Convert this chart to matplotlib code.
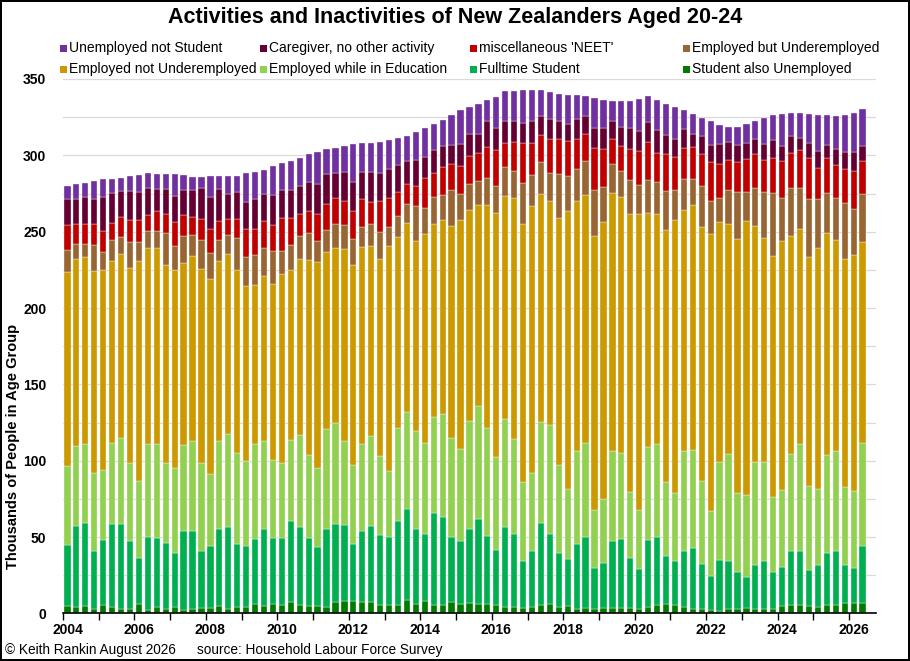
"""
Activities and Inactivities of New Zealanders Aged 20-24 (stacked quarterly bars).
Values (thousands) read from the HLFS chart, 2004 Q1 to 2026 Q2.
"""

import numpy as np
import matplotlib.pyplot as plt
from matplotlib.patches import Rectangle

plt.rcParams['font.family'] = ['Liberation Sans', 'DejaVu Sans']

# ============================================================================
# DATA (thousands of people, one value per quarter from 2004 Q1)
# ============================================================================
years = list(range(2004, 2027, 2))

student_unemployed = [
    5.0, 4.5, 5.0, 3.2, 5.7, 4.5, 2.9, 3.2, 6.1, 2.0, 4.5, 3.2, 4.5, 2.3, 3.2, 3.6,
    3.6, 5.0, 3.2, 4.3, 4.5, 6.1, 5.0, 6.1, 5.7, 7.7, 5.7, 5.2, 5.2, 4.5, 7.2, 7.9,
    7.9, 7.5, 7.5, 5.7, 5.4, 5.4, 8.8, 6.3, 8.4, 5.7, 5.7, 7.2, 6.1, 6.8, 6.1, 6.1,
    5.7, 4.5, 4.1, 3.9, 4.1, 5.7, 6.1, 4.3, 4.8, 2.7, 3.4, 2.7, 3.4, 3.4, 3.4, 3.4,
    3.2, 4.5, 5.7, 6.1, 5.7, 4.1, 2.7, 2.7, 2.3, 1.8, 3.2, 2.7, 3.6, 3.2, 3.2, 3.2,
    5.0, 5.7, 5.4, 4.8, 4.3, 5.4, 5.4, 6.6, 7.0, 7.0]

fulltime_student = [
    40.1, 52.6, 54.4, 37.4, 42.3, 54.4, 56.0, 44.4, 30.1, 47.8, 45.1, 43.0, 34.9, 51.4, 50.9, 37.6,
    40.4, 50.3, 53.2, 41.5, 39.7, 42.6, 50.3, 43.1, 43.9, 52.8, 50.7, 44.0, 38.3, 50.8, 51.7, 50.1,
    37.4, 46.6, 50.0, 45.7, 44.4, 55.1, 59.6, 49.2, 43.7, 59.8, 57.7, 43.1, 41.5, 48.7, 56.0, 44.6,
    36.0, 52.4, 47.8, 30.5, 36.5, 53.7, 45.8, 35.1, 30.8, 42.6, 46.4, 26.8, 29.5, 44.2, 45.5, 32.6,
    25.6, 43.5, 44.6, 31.3, 28.5, 36.5, 40.3, 29.9, 22.4, 33.1, 31.2, 24.5, 20.6, 28.5, 31.2, 24.0,
    25.6, 34.9, 35.8, 23.5, 27.6, 34.0, 35.2, 24.9, 22.7, 37.0]

employed_education = [
    51.6, 52.8, 51.6, 51.6, 45.8, 52.6, 56.0, 50.7, 50.3, 61.2, 61.4, 52.1, 55.8, 56.6, 58.9, 57.1,
    47.5, 57.7, 61.4, 59.3, 55.5, 62.3, 57.7, 51.4, 48.9, 53.2, 60.7, 54.3, 51.7, 65.7, 65.7, 55.0,
    51.9, 56.9, 58.9, 51.7, 43.5, 61.2, 63.5, 63.9, 59.4, 63.4, 67.1, 64.6, 59.8, 70.5, 73.6, 71.0,
    60.7, 70.4, 62.5, 51.7, 51.4, 65.7, 71.3, 57.8, 46.0, 61.0, 61.7, 38.5, 41.9, 58.7, 56.0, 43.7,
    38.9, 60.7, 60.5, 48.7, 44.9, 65.7, 63.9, 53.9, 42.6, 64.1, 69.8, 51.9, 53.3, 67.8, 65.1, 49.1,
    50.3, 64.1, 69.6, 55.5, 49.9, 64.1, 65.9, 51.6, 50.7, 67.5]

employed_not_under = [
    126.9, 122.3, 122.3, 131.9, 130.9, 119.6, 120.7, 128.0, 144.1, 128.0, 128.0, 129.8, 130.0, 119.4, 121.3, 127.6,
    127.6, 118.1, 117.4, 119.6, 114.8, 104.2, 108.3, 115.1, 123.7, 111.5, 114.9, 128.0, 135.0, 116.0, 114.4, 125.6,
    130.9, 128.9, 124.2, 128.9, 147.3, 124.8, 123.9, 124.4, 137.3, 126.2, 126.9, 139.1, 150.0, 138.4, 132.1, 146.1,
    159.7, 146.1, 157.7, 169.2, 174.9, 149.9, 146.8, 162.0, 181.7, 163.5, 162.8, 178.9, 181.7, 169.0, 168.1, 182.2,
    194.0, 153.4, 151.1, 164.7, 178.3, 158.1, 160.9, 166.3, 181.5, 157.5, 151.1, 165.8, 179.2, 154.5, 146.5, 157.7,
    163.1, 142.7, 141.1, 149.5, 157.4, 145.7, 138.2, 149.3, 154.5, 131.8]

employed_under = [
    14.7, 9.5, 8.7, 17.2, 11.8, 13.3, 10.9, 17.0, 12.7, 11.6, 11.3, 20.9, 15.4, 17.5, 13.5, 18.8,
    17.0, 13.3, 12.9, 21.3, 19.1, 19.7, 17.7, 21.7, 15.0, 16.1, 15.0, 17.7, 13.8, 13.8, 15.9, 16.0,
    17.3, 13.2, 14.5, 18.1, 12.7, 13.6, 12.2, 23.1, 16.7, 17.9, 16.7, 23.5, 17.6, 17.0, 15.2, 17.4,
    18.1, 18.8, 17.7, 26.8, 20.1, 20.4, 18.6, 28.5, 23.3, 21.3, 22.2, 30.4, 22.6, 19.2, 16.8, 22.2,
    19.0, 21.5, 20.6, 25.6, 19.7, 20.4, 17.0, 26.8, 21.5, 15.8, 22.2, 30.8, 19.5, 24.9, 29.9, 41.5,
    28.3, 31.0, 26.8, 37.9, 32.0, 26.1, 27.2, 36.1, 30.2, 31.7]

neet = [
    16.3, 13.2, 12.9, 13.8, 13.8, 11.6, 13.1, 14.5, 14.5, 10.4, 13.0, 12.7, 15.9, 13.6, 11.6, 13.3,
    15.8, 12.7, 10.2, 12.5, 18.1, 16.8, 17.7, 17.2, 21.5, 17.4, 14.7, 14.1, 17.7, 17.4, 17.2, 15.4,
    17.9, 18.5, 14.5, 20.2, 18.8, 15.6, 13.4, 12.9, 19.7, 15.4, 18.1, 16.6, 17.7, 18.1, 18.3, 20.0,
    23.2, 15.7, 19.2, 26.0, 21.1, 17.7, 22.4, 23.1, 23.1, 19.9, 17.7, 27.2, 24.9, 15.9, 16.5, 19.9,
    22.2, 25.0, 19.3, 24.2, 21.9, 19.7, 20.6, 21.3, 25.3, 22.2, 19.3, 19.7, 21.7, 21.7, 20.9, 22.9,
    24.3, 23.1, 24.9, 27.2, 20.4, 23.1, 21.5, 22.8, 24.9, 21.1]

caregiver = [
    17.0, 16.7, 17.9, 16.5, 22.5, 19.3, 17.0, 18.8, 18.4, 17.7, 14.7, 16.3, 17.2, 16.5, 17.9, 20.7,
    21.1, 20.9, 16.5, 17.7, 17.7, 19.9, 17.7, 19.3, 18.8, 18.8, 18.5, 19.0, 19.7, 19.3, 16.1, 19.1,
    19.2, 17.7, 19.3, 17.9, 19.0, 17.9, 14.9, 17.2, 13.8, 15.0, 13.9, 12.7, 14.7, 14.5, 12.7, 17.0,
    14.2, 14.7, 13.6, 12.9, 14.5, 12.5, 13.0, 11.8, 10.9, 12.7, 11.4, 13.6, 14.1, 11.8, 12.5, 14.1,
    13.1, 13.3, 15.1, 12.9, 11.8, 12.9, 8.8, 12.0, 11.4, 12.9, 11.8, 11.1, 10.2, 10.0, 10.6, 11.5,
    9.7, 11.4, 7.7, 9.7, 11.1, 8.4, 10.9, 11.1, 12.4, 9.8]

unemployed_not_student = [
    8.6, 9.6, 9.3, 11.6, 11.5, 9.2, 8.6, 9.8, 10.8, 9.5, 9.9, 9.9, 14.2, 9.7, 8.8, 7.4,
    13.4, 8.4, 11.6, 10.6, 18.8, 17.3, 16.3, 19.3, 17.5, 18.6, 17.9, 18.3, 21.0, 16.5, 16.7, 17.2,
    24.9, 18.6, 19.0, 20.6, 19.0, 17.7, 16.6, 18.4, 18.6, 17.2, 17.2, 19.9, 22.2, 17.9, 19.9, 14.0,
    20.4, 19.3, 19.7, 21.8, 20.4, 16.9, 17.2, 17.7, 19.2, 16.1, 13.1, 19.2, 18.3, 13.5, 16.7, 17.4,
    20.9, 16.8, 19.5, 20.4, 20.9, 12.2, 12.7, 11.7, 15.2, 12.5, 10.2, 12.3, 12.2, 12.0, 17.0, 16.3,
    20.8, 14.9, 16.5, 19.0, 24.0, 19.6, 21.7, 24.0, 25.4, 24.2]

# stacking order bottom -> top
SERIES = [
    ('Student also Unemployed', student_unemployed, '#007A00'),
    ('Fulltime Student', fulltime_student, '#00B050'),
    ('Employed while in Education', employed_education, '#92D050'),
    ('Employed not Underemployed', employed_not_under, '#CC9900'),
    ('Employed but Underemployed', employed_under, '#996633'),
    ("miscellaneous 'NEET'", neet, '#C00000'),
    ('Caregiver, no other activity', caregiver, '#660033'),
    ('Unemployed not Student', unemployed_not_student, '#7030A0'),
]

N_SLOTS = 91  # one empty slot after 2026 Q2, as in the original axis

# ============================================================================
# PLOT
# ============================================================================
W, H = 910, 661
fig = plt.figure(figsize=(W / 100, H / 100), dpi=100, edgecolor='black', linewidth=1.5)
ax = fig.add_axes([0.0692, 0.0719, 0.8934, 0.8086])

x = np.arange(len(student_unemployed))
bottom = np.zeros(len(x))
colors = {}
for label, values, color in SERIES:
    vals = np.array(values)
    ax.bar(x, vals, width=0.7, bottom=bottom, color=color,
           edgecolor='white', linewidth=0.25, zorder=2)
    bottom += vals
    colors[label] = color

ax.set_xlim(-0.5, N_SLOTS - 0.5)
ax.set_ylim(0, 350)
ax.set_yticks(range(0, 351, 50))
ax.set_yticks(range(0, 351, 25), minor=True)
ax.grid(True, axis='y', which='both', color='#D9D9D9', linewidth=0.9, zorder=0)
ax.set_axisbelow(True)

# year boundaries as tick marks, labels under the Q1 bar of every second year
ax.set_xticks(np.arange(-0.5, N_SLOTS - 1, 4))
ax.set_xticklabels([])
ax.set_xticks([(yr - 2004) * 4 for yr in years], minor=True)
ax.set_xticklabels([str(yr) for yr in years], minor=True, fontweight='bold', fontsize=10)
ax.tick_params(axis='x', which='major', length=5, width=1, color='black', direction='out')
ax.tick_params(axis='x', which='minor', length=0, pad=7)
ax.tick_params(axis='y', which='both', length=0, pad=12)
for lbl in ax.get_yticklabels():
    lbl.set_fontweight('bold')
    lbl.set_fontsize(10)

for side in ['left', 'right', 'top']:
    ax.spines[side].set_visible(False)
ax.spines['bottom'].set_linewidth(1.2)
ax.spines['bottom'].set_zorder(3)

fig.text(0.5, 1 - 18 / H, 'Activities and Inactivities of New Zealanders Aged 20-24',
         ha='center', va='center', fontsize=15.5, fontweight='bold')

# legend laid out as in the original: 2 rows x 4 columns
legend_rows = [
    ['Unemployed not Student', 'Caregiver, no other activity',
     "miscellaneous 'NEET'", 'Employed but Underemployed'],
    ['Employed not Underemployed', 'Employed while in Education',
     'Fulltime Student', 'Student also Unemployed'],
]
legend_cols_px = [60, 260, 470, 683]
legend_rows_px = [48, 69]
for row, y_px in zip(legend_rows, legend_rows_px):
    for label, x_px in zip(row, legend_cols_px):
        fig.patches.append(Rectangle(((x_px) / W, 1 - (y_px + 3.5) / H), 7 / W, 7 / H,
                                     transform=fig.transFigure, facecolor=colors[label],
                                     edgecolor='none'))
        fig.text((x_px + 9) / W, 1 - y_px / H, label, ha='left', va='center', fontsize=10)

fig.text(0.0143, 0.324, 'Thousands of People in Age Group', rotation=90,
         ha='center', va='center', fontsize=10.5, fontweight='bold')
fig.text(5 / W, 1 - 650 / H, '© Keith Rankin August 2026', ha='left', va='center', fontsize=9.8)
fig.text(197 / W, 1 - 650 / H, 'source: Household Labour Force Survey', ha='left', va='center', fontsize=9.8)

fig.savefig('out.png', dpi=100)
print('saved out.png')
